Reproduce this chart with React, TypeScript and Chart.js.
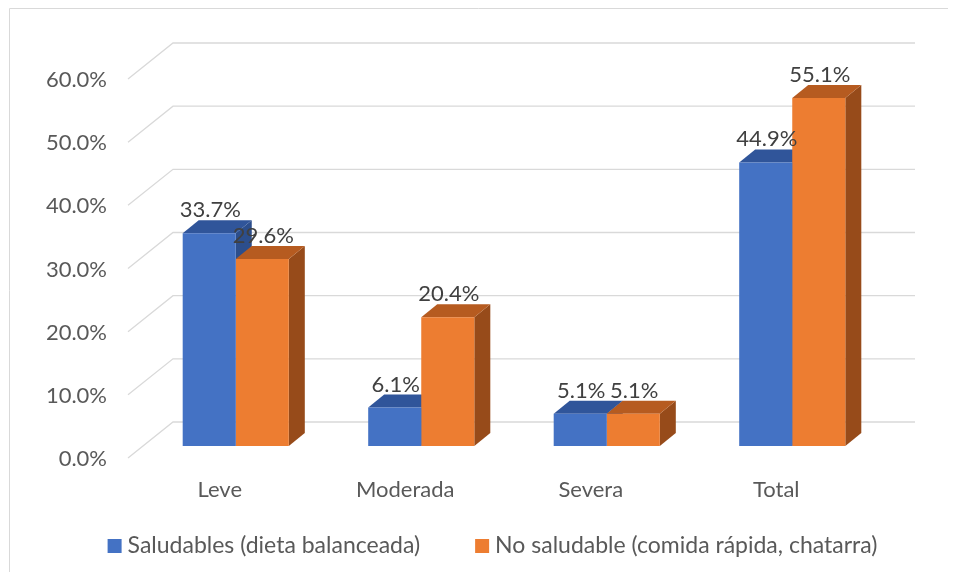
import React, { useEffect, useRef } from 'react';
import { Chart, registerables } from 'chart.js';

Chart.register(...registerables);

// ---- data ----
const categories = ['Leve', 'Moderada', 'Severa', 'Total'];
const saludables = [33.7, 6.1, 5.1, 44.9];
const noSaludable = [29.6, 20.4, 5.1, 55.1];
const seriesNames = ['Saludables (dieta balanceada)', 'No saludable (comida rápida, chatarra)'];
const yMin = 0;
const yMax = 60;
const yStep = 10;

// ---- styles ----
const FONT = 'Lato, "Open Sans", sans-serif';
const FONT_SIZE = 22;
const LEGEND_SIZE = 23;
const TEXT = '#595959';
const LABEL_TEXT = '#404040';
const GRID = '#d9d9d9';
const PALETTES = [
  { front: '#4472C4', top: '#30559A', side: '#2C4E8C' },
  { front: '#ED7D31', top: '#B65B20', side: '#974B1A' },
];
const DX = 16; // bar depth
const DY = 13;
const WALL_X = 30; // front face -> back wall
const WALL_Y = 24;
const LBL_X = 15; // label plane in front of bar faces
const LBL_Y = 12;

const threeD = {
  id: 'threeD',
  beforeDraw(chart: any) {
    const { ctx, width, height } = chart;
    ctx.save();
    ctx.strokeStyle = GRID;
    ctx.lineWidth = 1;
    ctx.beginPath();
    ctx.moveTo(1.5, height);
    ctx.lineTo(1.5, 0.5);
    ctx.lineTo(width, 0.5);
    ctx.stroke();
    ctx.restore();
  },
  beforeDatasetsDraw(chart: any) {
    const { ctx, chartArea } = chart;
    const y = chart.scales.y;
    ctx.save();
    ctx.strokeStyle = GRID;
    ctx.lineWidth = 1.3;
    y.ticks.forEach((t: any) => {
      const py = y.getPixelForValue(t.value);
      ctx.beginPath();
      ctx.moveTo(chartArea.left - LBL_X, py + LBL_Y);
      ctx.lineTo(chartArea.left + WALL_X, py - WALL_Y);
      ctx.lineTo(chartArea.right + WALL_X, py - WALL_Y);
      ctx.stroke();
    });
    const n = chart.data.labels.length;
    for (let i = 0; i < n; i++) {
      for (let d = 0; d < chart.data.datasets.length; d++) {
        const bar = chart.getDatasetMeta(d).data[i];
        const { x, y: top, base, width } = bar.getProps(['x', 'y', 'base', 'width'], true);
        const l = x - width / 2;
        const r = x + width / 2;
        const pal = PALETTES[d];
        ctx.fillStyle = pal.side;
        ctx.beginPath();
        ctx.moveTo(r, top);
        ctx.lineTo(r + DX, top - DY);
        ctx.lineTo(r + DX, base - DY);
        ctx.lineTo(r, base);
        ctx.closePath();
        ctx.fill();
        ctx.fillStyle = pal.top;
        ctx.beginPath();
        ctx.moveTo(l, top);
        ctx.lineTo(l + DX, top - DY);
        ctx.lineTo(r + DX, top - DY);
        ctx.lineTo(r, top);
        ctx.closePath();
        ctx.fill();
      }
    }
    ctx.restore();
  },
  afterDatasetsDraw(chart: any) {
    const { ctx } = chart;
    ctx.save();
    ctx.font = `${FONT_SIZE}px ${FONT}`;
    ctx.fillStyle = LABEL_TEXT;
    ctx.textAlign = 'center';
    ctx.textBaseline = 'middle';
    chart.data.datasets.forEach((ds: any, d: number) => {
      chart.getDatasetMeta(d).data.forEach((bar: any, i: number) => {
        const { x, y } = bar.getProps(['x', 'y'], true);
        ctx.fillText(`${Number(ds.data[i]).toFixed(1)}%`, x + 1, y - 23);
      });
    });
    ctx.restore();
  },
  afterDraw(chart: any) {
    const { ctx } = chart;
    ctx.save();
    ctx.font = `${LEGEND_SIZE}px ${FONT}`;
    const sq = 14;
    const gap = 6;
    const itemGap = 55;
    const widths = chart.data.datasets.map((ds: any) => ctx.measureText(ds.label).width);
    const total = widths.reduce((a: number, w: number) => a + sq + gap + w, 0) + itemGap * (widths.length - 1);
    let x = 484.5 - total / 2;
    const cy = 538;
    chart.data.datasets.forEach((ds: any, d: number) => {
      ctx.fillStyle = PALETTES[d].front;
      ctx.fillRect(x, cy - sq / 2, sq, sq);
      x += sq + gap;
      ctx.fillStyle = TEXT;
      ctx.textAlign = 'left';
      ctx.textBaseline = 'middle';
      ctx.fillText(ds.label, x, cy);
      x += widths[d] + itemGap;
    });
    ctx.restore();
  },
};

export default function App() {
  const ref = useRef<HTMLCanvasElement>(null);
  useEffect(() => {
    if (!ref.current) return;
    const chart = new Chart(ref.current, {
      type: 'bar',
      data: {
        labels: categories,
        datasets: [
          { label: seriesNames[0], data: saludables, backgroundColor: PALETTES[0].front, borderWidth: 0 },
          { label: seriesNames[1], data: noSaludable, backgroundColor: PALETTES[1].front, borderWidth: 0 },
        ],
      },
      options: {
        animation: false,
        responsive: false,
        maintainAspectRatio: false,
        datasets: { bar: { categoryPercentage: 0.572, barPercentage: 1 } },
        layout: { padding: { top: 59, right: 63, left: 0, bottom: 0 } },
        plugins: { legend: { display: false }, tooltip: { enabled: false } },
        scales: {
          x: {
            grid: { display: false, drawTicks: false },
            border: { display: false },
            ticks: { font: { family: FONT, size: FONT_SIZE }, color: TEXT, labelOffset: -16, padding: 31 },
            afterFit(a: any) { a.height = 126; },
          },
          y: {
            min: yMin,
            max: yMax,
            grid: { display: false, drawTicks: false },
            border: { display: false },
            ticks: {
              stepSize: yStep,
              font: { family: FONT, size: FONT_SIZE },
              color: TEXT,
              labelOffset: 13,
              padding: 36,
              callback: (v: any) => `${Number(v).toFixed(1)}%`,
            },
            afterFit(a: any) { a.width = 135; },
          },
        },
      },
      plugins: [threeD],
    });
    return () => chart.destroy();
  }, []);
  return (
    <div style={{ width: 940, height: 564 }}>
      <canvas ref={ref} width={940} height={564} style={{ display: 'block' }} />
    </div>
  );
}
